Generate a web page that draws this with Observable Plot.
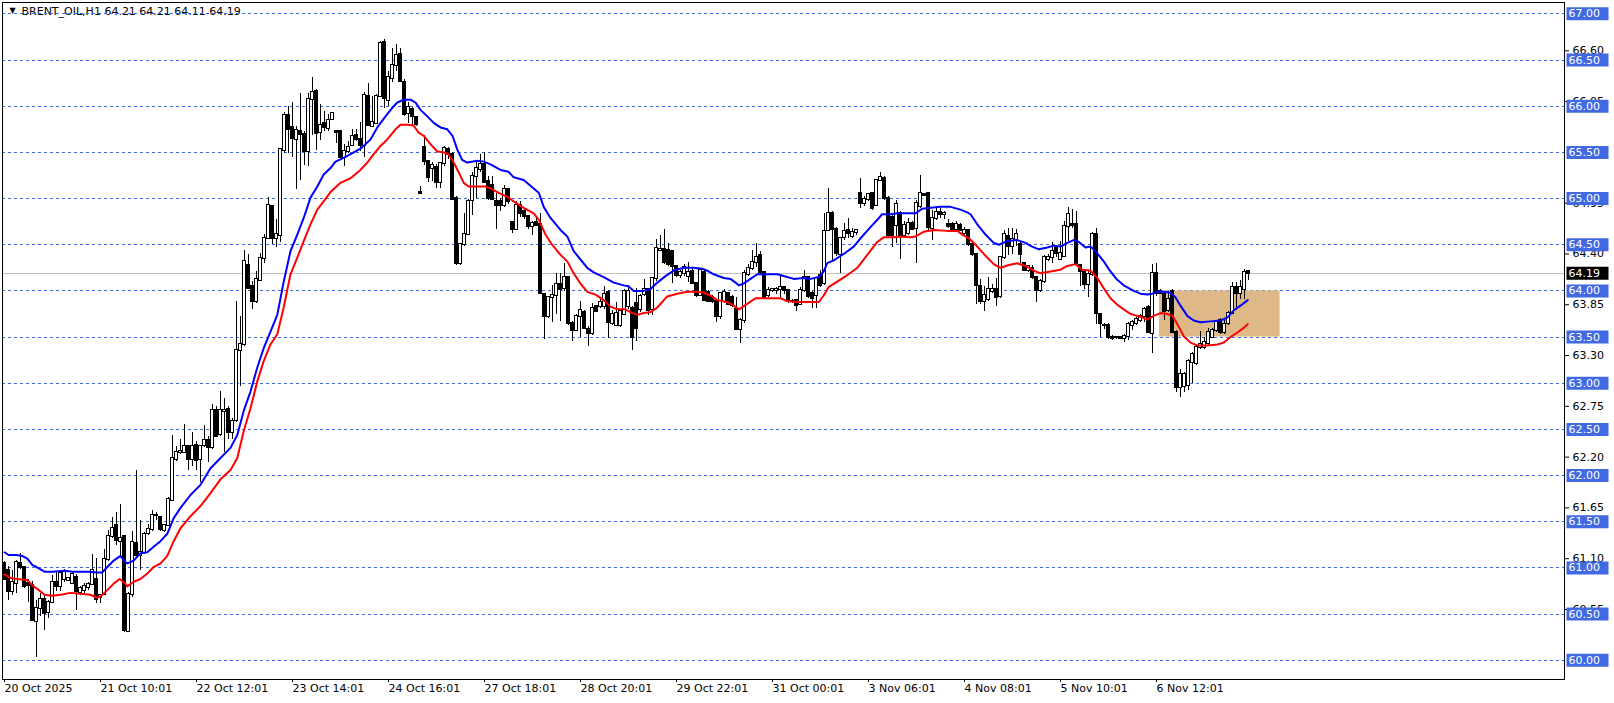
<!DOCTYPE html>
<html><head><meta charset="utf-8">
<script src="https://cdn.jsdelivr.net/npm/d3@7"></script>
<script src="https://cdn.jsdelivr.net/npm/@observablehq/plot@0.6"></script>
<style>
html,body{margin:0;padding:0;background:#fff;}
#chart{width:1614px;height:703px;overflow:hidden;}
svg{display:block}
</style></head><body><div id="chart"></div>
<script>
const symbolName = "BRENT_OIL";
const timeframe = "H1";

const open = [
61.05,60.97,60.75,60.83,61.05,61.00,60.83,60.81,60.42,60.56,
60.66,60.52,60.63,60.84,60.80,60.87,60.86,60.83,60.90,60.73,
60.76,60.79,60.82,60.88,60.68,60.71,61.09,61.34,61.46,61.29,
61.34,60.31,60.71,61.26,61.13,61.17,61.37,61.42,61.57,61.55,
61.41,61.46,61.73,62.17,62.25,62.25,62.31,62.17,62.33,62.17,
62.33,62.38,62.30,62.71,62.44,62.69,62.72,62.47,62.60,63.35,
63.42,64.27,64.05,63.89,64.11,64.35,64.57,64.91,64.57,64.60,
65.52,65.90,65.77,65.64,65.73,65.69,65.51,66.07,66.16,65.71,
65.81,65.76,65.86,65.73,65.73,65.44,65.51,65.57,65.68,65.64,
65.57,66.11,65.78,65.81,66.10,66.69,66.06,66.30,66.44,66.56,
66.26,65.92,65.96,65.88,65.07,65.55,65.40,65.33,65.34,65.17,
65.38,65.53,65.48,65.00,64.30,64.50,64.61,64.98,65.24,65.32,
65.37,65.19,65.14,64.97,64.97,64.93,65.10,64.74,64.67,64.93,
64.86,64.81,64.70,64.74,64.72,63.96,63.72,63.93,63.95,64.07,
64.03,64.15,63.65,63.57,63.72,63.77,63.58,63.54,63.83,63.83,
63.83,63.98,63.65,63.63,63.63,63.74,63.83,63.81,63.86,63.80,
63.96,64.02,63.80,64.13,64.44,64.45,64.44,64.43,64.26,64.17,
64.19,64.16,64.21,64.08,63.95,64.20,63.98,63.93,63.88,63.72,
63.88,63.97,63.93,63.80,63.58,63.68,64.18,64.24,64.31,64.38,
64.20,63.95,64.00,64.00,64.02,64.04,64.00,63.88,63.90,63.85,
64.00,64.14,63.97,63.95,64.17,64.08,64.65,64.84,64.67,64.39,
64.58,64.65,64.59,64.63,65.06,64.95,64.99,65.05,64.93,65.20,
65.22,65.00,64.80,64.71,64.84,64.60,64.62,64.73,64.68,64.91,
65.04,65.05,64.68,64.78,64.85,64.83,64.72,64.72,64.67,64.71,
64.62,64.65,64.50,64.39,64.05,63.88,63.91,63.99,64.02,63.94,
64.36,64.59,64.48,64.55,64.50,64.30,64.22,64.24,64.15,64.00,
64.10,64.34,64.36,64.46,64.34,64.37,64.70,64.72,64.72,64.27,
64.20,64.07,64.18,64.61,63.74,63.63,63.62,63.49,63.49,63.49,
63.48,63.51,63.62,63.65,63.68,63.72,63.82,63.54,64.19,63.99,
63.96,63.79,63.99,63.55,62.95,62.97,62.98,63.22,63.21,63.39,
63.39,63.43,63.50,63.57,63.68,63.55,63.65,63.76,64.04,63.97,
64.02,64.21];

const high = [
61.07,61.02,60.97,61.08,61.16,61.02,60.87,60.85,60.65,60.72,
60.70,60.65,60.92,60.96,60.96,60.98,60.90,60.95,60.93,60.80,
60.83,60.84,61.15,61.10,60.71,61.20,61.41,61.55,61.60,61.69,
61.35,60.73,61.40,62.05,61.51,61.38,61.47,61.62,61.60,61.55,
61.47,61.76,62.43,62.32,62.39,62.55,62.33,62.47,62.37,62.33,
62.54,62.42,62.77,62.75,62.91,62.84,62.75,62.62,63.88,63.72,
64.44,64.39,64.10,64.21,64.40,64.61,65.01,64.93,64.77,65.53,
65.93,66.00,66.04,65.78,66.14,65.73,66.14,66.31,66.18,66.02,
65.94,65.91,65.92,65.73,65.74,65.58,65.62,65.75,65.75,65.82,
66.15,66.25,66.11,66.13,66.70,66.72,66.38,66.63,66.67,66.62,
66.29,66.04,65.99,65.89,65.13,65.68,65.41,65.39,65.37,65.39,
65.56,65.55,65.50,65.02,64.51,64.84,64.99,65.28,65.39,65.48,
65.50,65.24,65.24,65.06,65.00,65.14,65.11,64.75,64.97,64.97,
64.88,64.81,64.75,64.80,64.84,63.97,63.94,64.06,64.19,64.19,
64.30,64.16,63.67,63.74,63.88,63.79,63.61,63.86,63.84,63.92,
64.05,64.00,63.79,63.87,63.80,64.01,64.05,63.83,64.03,63.96,
64.12,64.03,64.15,64.56,64.60,64.66,64.51,64.43,64.27,64.22,
64.29,64.31,64.24,64.08,64.24,64.22,64.00,63.95,63.89,63.98,
64.02,63.98,63.95,63.93,63.70,64.22,64.29,64.44,64.51,64.43,
64.20,64.04,64.02,64.04,64.16,64.05,64.02,63.91,63.91,64.04,
64.22,64.16,63.99,64.13,64.22,64.84,65.11,64.86,64.69,64.58,
64.73,64.78,64.68,64.67,65.22,65.02,65.06,65.07,65.20,65.28,
65.24,65.02,64.82,64.98,64.86,64.75,64.78,64.75,64.98,65.25,
65.05,65.07,64.87,64.89,64.89,64.86,64.77,64.74,64.75,64.73,
64.69,64.66,64.52,64.41,64.12,64.05,64.15,64.07,64.13,64.37,
64.65,64.68,64.68,64.66,64.52,64.31,64.27,64.28,64.16,64.12,
64.38,64.39,64.52,64.48,64.54,64.75,64.90,64.88,64.86,64.29,
64.21,64.21,64.63,64.68,63.76,63.65,63.65,63.52,63.51,63.50,
63.53,63.66,63.68,63.71,63.74,63.82,63.84,64.29,64.30,64.01,
63.98,63.99,64.01,63.57,63.15,63.12,63.26,63.33,63.40,63.56,
63.50,63.59,63.59,63.68,63.70,63.68,63.78,64.09,64.09,64.11,
64.23,64.21];

const low = [
60.86,60.65,60.70,60.72,60.98,60.78,60.63,60.43,60.03,60.47,
60.32,60.45,60.62,60.74,60.74,60.84,60.85,60.82,60.54,60.70,
60.72,60.76,60.81,60.62,60.62,60.70,61.07,61.32,61.24,61.11,
60.30,60.30,60.68,61.11,60.97,61.15,61.35,61.40,61.51,61.40,
61.38,61.45,61.72,62.15,62.23,62.24,62.06,62.10,62.06,61.93,
62.30,62.14,62.28,62.41,62.42,62.25,62.39,62.39,62.58,62.97,
63.40,64.01,63.80,63.86,64.10,64.30,64.57,64.50,64.47,64.52,
65.49,65.49,65.44,65.10,65.20,65.36,65.35,65.68,65.52,65.63,
65.73,65.73,65.84,65.60,65.42,65.35,65.49,65.57,65.62,65.51,
65.44,65.78,65.78,65.80,66.09,65.98,66.00,66.26,66.38,66.26,
65.89,65.81,65.78,65.78,65.05,65.36,65.17,65.19,65.11,65.11,
65.35,65.42,64.99,64.28,64.28,64.48,64.60,64.82,65.00,65.28,
65.17,64.98,64.99,64.67,64.86,64.90,64.94,64.62,64.66,64.79,
64.77,64.66,64.60,64.70,63.97,63.47,63.70,63.66,63.74,63.67,
63.99,63.63,63.45,63.56,63.50,63.59,63.40,63.52,63.77,63.81,
63.80,63.48,63.63,63.61,63.60,63.74,63.80,63.35,63.45,63.77,
63.94,63.73,63.73,64.10,64.43,64.29,64.26,64.08,64.15,64.13,
64.16,64.09,64.08,63.93,63.95,63.89,63.87,63.86,63.66,63.69,
63.86,63.84,63.82,63.57,63.43,63.65,64.16,64.22,64.25,64.18,
63.91,63.93,63.98,63.96,63.93,63.96,63.86,63.86,63.78,63.84,
63.98,63.92,63.81,63.81,64.04,64.06,64.64,64.33,64.37,64.19,
64.55,64.57,64.57,64.60,64.89,64.91,64.97,64.87,64.91,65.18,
64.98,64.58,64.47,64.51,64.34,64.58,64.60,64.66,64.30,64.89,
65.02,64.64,64.55,64.76,64.78,64.77,64.68,64.64,64.66,64.64,
64.59,64.48,64.37,63.85,63.85,63.78,63.89,63.97,63.83,63.92,
64.34,64.38,64.39,64.48,64.30,64.21,64.20,64.12,63.87,63.98,
64.08,64.32,64.30,64.36,64.34,64.36,64.54,64.68,64.27,64.05,
64.01,63.93,64.16,63.64,63.49,63.58,63.47,63.46,63.47,63.47,
63.44,63.46,63.57,63.63,63.66,63.66,63.55,63.32,63.94,63.96,
63.68,63.77,63.54,62.90,62.85,62.90,62.92,63.00,63.19,63.37,
63.37,63.40,63.48,63.55,63.53,63.53,63.63,63.75,63.79,63.91,
63.91,64.11];

const close = [
60.88,60.74,60.84,61.06,61.00,60.80,60.81,60.43,60.56,60.66,
60.51,60.63,60.84,60.80,60.94,60.95,60.89,60.93,60.74,60.78,
60.80,60.82,60.97,60.66,60.70,61.09,61.34,61.43,61.30,61.32,
60.32,60.71,61.28,61.13,61.17,61.36,61.42,61.57,61.57,61.42,
61.46,61.74,62.19,62.25,62.26,62.31,62.17,62.32,62.16,62.32,
62.38,62.30,62.71,62.42,62.70,62.71,62.47,62.59,63.36,63.42,
64.32,64.03,63.88,64.12,64.35,64.57,64.93,64.57,64.61,65.53,
65.90,65.75,65.65,65.74,65.69,65.51,66.07,66.15,65.70,65.79,
65.77,65.84,65.92,65.71,65.44,65.51,65.55,65.67,65.64,65.57,
66.12,65.79,65.82,66.11,66.68,66.08,66.31,66.44,66.55,66.27,
65.91,65.99,65.89,65.80,65.06,65.40,65.23,65.36,65.17,65.38,
65.54,65.48,64.99,64.30,64.50,64.61,64.97,65.24,65.33,65.37,
65.17,65.00,64.99,64.93,64.93,65.10,64.97,64.67,64.93,64.84,
64.81,64.70,64.73,64.71,63.97,63.72,63.93,63.95,64.07,64.01,
64.14,63.65,63.57,63.72,63.79,63.59,63.54,63.81,63.78,63.87,
63.96,63.66,63.74,63.76,63.78,63.99,63.99,63.50,63.59,63.94,
64.01,63.79,64.13,64.46,64.45,64.31,64.29,64.26,64.17,64.20,
64.25,64.20,64.08,63.95,64.22,63.90,63.89,63.88,63.72,63.97,
63.98,63.85,63.84,63.58,63.68,64.19,64.24,64.31,64.36,64.20,
63.93,64.00,64.01,64.02,64.04,64.00,63.88,63.89,63.84,64.00,
64.14,63.94,63.92,64.13,64.06,64.64,64.84,64.66,64.40,64.57,
64.64,64.62,64.63,64.65,64.95,64.99,65.04,64.89,65.20,65.23,
65.00,64.60,64.60,64.94,64.60,64.71,64.73,64.66,64.95,65.05,
65.03,64.69,64.78,64.85,64.83,64.84,64.70,64.65,64.72,64.65,
64.65,64.50,64.39,64.06,63.88,63.95,64.01,64.02,63.93,64.36,
64.61,64.48,64.56,64.61,64.39,64.22,64.26,64.15,64.00,64.10,
64.36,64.36,64.43,64.41,64.40,64.70,64.83,64.71,64.30,64.21,
64.07,64.18,64.61,63.75,63.65,63.63,63.49,63.48,63.49,63.48,
63.51,63.64,63.66,63.69,63.72,63.80,63.55,64.19,63.97,63.97,
63.78,63.91,63.55,62.95,63.10,63.10,63.24,63.31,63.39,63.42,
63.44,63.55,63.57,63.66,63.55,63.64,63.76,64.04,63.97,64.04,
64.20,64.19];

// Blue moving average (bar position, price)
const blueBar = [0,1,3,4.4,5.7,7,8,10,12,15,17,21,23,24.4,25.7,27.3,29,30,30.7,32.3,34,35.7,37.3,39,40.7,42.3,44,46.5,49,51.5,54,56.5,58.2,59.8,61.5,63.2,64.8,66.5,68.2,69.8,71.5,73.2,74.8,76.5,78.2,79.8,81.5,82.75,84.8,87.3,89,91.5,93.2,95.25,96.9,98.2,99.8,101.5,102.75,104,105.7,107.3,109,110.7,112,113.2,114.4,115.7,118.2,119.8,121.5,124,126,127.3,129.8,132.3,133.6,134.8,136.5,139,140.7,142.3,144,145.7,147.3,149.8,152.3,154.8,156,157.3,159.8,161.5,163.2,165.25,167.3,169.8,172.3,174.4,175.7,177.3,179.8,181.5,182.75,183.6,184.8,186.5,188.2,190.7,193.2,195.7,197.3,199.8,201.5,203.6,204.8,205.7,207.3,209.8,212.3,214,216.5,218.2,219.4,221.5,223.2,225.7,227.75,229.4,231.5,234,236.5,239,240.7,241.5,243.2,245.25,247.3,248.6,250.7,253.2,255.25,256.9,258.6,260.7,262.3,264,265.7,267.3,268.6,270.25,271.5,272.75,274.8,276.5,278.2,279.8,281.5,282.3,284,285.7,286.9,288.2,289.8,291.5,292.75,294,295.7,297.3,299,301.5,304,305.7,307.3,309,310.8];
const blueVal = [61.17,61.14,61.14,61.13,61.10,61.03,61.01,60.96,60.96,60.97,60.96,60.96,60.95,60.95,61.01,61.08,61.13,61.07,61.05,61.08,61.16,61.17,61.23,61.29,61.37,61.54,61.65,61.79,61.90,62.08,62.19,62.30,62.44,62.70,62.91,63.17,63.38,63.56,63.74,64.10,64.43,64.61,64.79,65.01,65.13,65.26,65.33,65.40,65.44,65.50,65.54,65.64,65.77,65.89,65.98,66.04,66.07,66.07,66.04,65.96,65.89,65.82,65.77,65.75,65.68,65.53,65.42,65.39,65.41,65.40,65.37,65.31,65.29,65.23,65.20,65.11,65.06,64.91,64.79,64.66,64.59,64.43,64.34,64.25,64.20,64.15,64.09,64.06,64.05,64.00,64.00,64.02,64.09,64.16,64.22,64.25,64.25,64.24,64.22,64.18,64.14,64.13,64.09,64.06,64.08,64.13,64.18,64.18,64.18,64.15,64.13,64.14,64.13,64.15,64.21,64.30,64.33,64.40,64.48,64.57,64.69,64.77,64.83,64.83,64.84,64.84,64.84,64.89,64.90,64.91,64.91,64.88,64.85,64.83,64.72,64.61,64.52,64.50,64.54,64.55,64.52,64.48,64.45,64.47,64.49,64.48,64.52,64.55,64.53,64.47,64.48,64.43,64.32,64.21,64.12,64.06,64.02,64.00,63.97,63.96,63.97,63.99,63.99,63.98,63.93,63.84,63.73,63.68,63.66,63.67,63.68,63.71,63.79,63.84,63.90];

// Red moving average (bar position, price)
const redBar = [0,1.5,3,5.7,7,8.6,10,12,14,16.5,19,21.5,23,24,25.7,27.3,28.8,30,30.7,32.3,34,35.7,37.3,39,40.7,42.3,44,46.5,49,51.5,54,56.5,58.2,59.8,61.5,63.2,64.8,66.5,68.2,69.8,71.5,73.2,74.8,76.5,78.2,79.8,81.5,84,86.5,89,90.7,92.3,94,95.7,97.75,99,100.7,102.3,103.6,104.8,106.5,108.2,109.8,111,112.3,113.6,114.8,116,118.2,120.25,121.5,124,125.7,127.3,129.8,132.3,133.6,135.25,136.9,139,140.7,142.3,144,145.7,147.75,149.8,151.5,153.2,155.25,156.9,158.2,159.8,161.5,163.2,165.7,168.2,170.7,173.2,174.8,176.5,178.2,180.7,182.3,183.6,185.7,187.75,190.7,194,195.7,198.2,201.5,203.6,204.8,206,208.2,210.7,213.2,215.7,218.2,219.8,222.3,224,226.5,227.75,229.8,232.3,235.7,238.2,239.5,241.1,243.2,245.25,247.3,249,251.1,253.2,255.25,257.3,259,261.5,264,265.7,267.75,269.4,271.5,273.2,274.8,276.5,278.2,279.8,281.5,282.3,284,285.7,287.3,289,290.7,292,293.2,294.8,296.5,298.2,300.7,303.2,304.8,306.5,308.2,309.8,310.8];
const redVal = [60.93,60.89,60.88,60.87,60.81,60.76,60.71,60.70,60.71,60.73,60.72,60.71,60.68,60.69,60.76,60.83,60.88,60.84,60.80,60.85,60.88,60.94,61.01,61.05,61.13,61.29,61.43,61.56,61.67,61.81,61.96,62.06,62.19,62.48,62.73,63.02,63.24,63.42,63.53,63.82,64.18,64.36,64.54,64.72,64.88,64.97,65.07,65.17,65.22,65.31,65.39,65.48,65.57,65.64,65.75,65.80,65.80,65.79,65.71,65.68,65.59,65.51,65.50,65.48,65.39,65.28,65.17,65.13,65.13,65.13,65.11,65.05,65.02,64.97,64.90,64.84,64.77,64.61,64.50,64.39,64.32,64.19,64.08,63.99,63.96,63.90,63.83,63.80,63.80,63.76,63.74,63.76,63.77,63.82,63.94,63.97,63.99,63.99,63.98,63.95,63.90,63.88,63.84,63.80,63.86,63.92,63.92,63.92,63.89,63.88,63.88,63.88,63.95,64.04,64.10,64.17,64.25,64.39,64.53,64.58,64.58,64.59,64.58,64.59,64.64,64.66,64.65,64.65,64.61,64.57,64.48,64.38,64.29,64.25,64.28,64.30,64.27,64.22,64.19,64.21,64.23,64.27,64.29,64.23,64.22,64.14,64.03,63.92,63.85,63.80,63.75,63.74,63.72,63.69,63.73,63.76,63.75,63.73,63.64,63.51,63.44,63.41,63.41,63.42,63.44,63.50,63.55,63.60,63.64];

const gridPrices = [60.00,60.50,61.00,61.50,62.00,62.50,63.00,63.50,64.00,64.50,65.00,65.50,66.00,66.50,67.00];
// price-scale labels that remain visible between the boxed grid labels
const scalePrices = [66.60,66.05,64.95,64.40,63.85,63.30,62.75,62.20,61.65,61.10,60.55];
const currentPrice = 64.19;
const xTickBars = [0,24,48,72,96,120,144,168,192,216,240,264,288];
const xTickLabels = ["20 Oct 2025","21 Oct 10:01","22 Oct 12:01","23 Oct 14:01","24 Oct 16:01","27 Oct 18:01","28 Oct 20:01","29 Oct 22:01","31 Oct 00:01","3 Nov 06:01","4 Nov 08:01","5 Nov 10:01","6 Nov 12:01"];
const zone = {barStart: 288.75, barEnd: 318.9, priceLow: 63.5, priceHigh: 64.0};

const bars = open.map((o, i) => ({i, open: o, high: high[i], low: low[i], close: close[i]}));
const blueLine = blueBar.map((b, k) => ({bar: b, price: blueVal[k]}));
const redLine = redBar.map((b, k) => ({bar: b, price: redVal[k]}));
const labelAt = new Map(xTickBars.map((b, k) => [b, xTickLabels[k]]));
const last = bars[bars.length - 1];
const title = `${symbolName},${timeframe} ${last.open.toFixed(2)} ${last.high.toFixed(2)} ${last.low.toFixed(2)} ${last.close.toFixed(2)}`;

const FONT = "DejaVu Sans";
const GRID = "#4169E1";
const labelBox = {draw(ctx) { ctx.moveTo(-21, -6.5); ctx.lineTo(21, -6.5); ctx.lineTo(21, 6.5); ctx.lineTo(-21, 6.5); ctx.closePath(); }};

const chart = Plot.plot({
  width: 1614,
  height: 703,
  marginLeft: 2,
  marginRight: 50,
  marginTop: 2,
  marginBottom: 24,
  style: {fontFamily: FONT, fontSize: "11px", background: "#fff", color: "black"},
  x: {type: "linear", domain: [-0.5, 390]},
  y: {type: "linear", domain: [59.792, 67.123]},
  color: {type: "identity"},
  marks: [
    Plot.text([title], {frameAnchor: "top-left", dx: 19, dy: 5, fill: "black", fontSize: 11, fontFamily: FONT}),
    Plot.text(["▼"], {frameAnchor: "top-left", dx: 7, dy: 5, fill: "black", fontSize: 8, fontFamily: FONT}),
    Plot.ruleY(gridPrices, {y: d => d, stroke: GRID, strokeDasharray: "3,3", shapeRendering: "crispEdges"}),
    Plot.rect([zone], {x1: "barStart", x2: "barEnd", y1: "priceLow", y2: "priceHigh", fill: "#DEB887"}),
    Plot.ruleY([currentPrice], {y: d => d, stroke: "#c0c0c0", shapeRendering: "crispEdges"}),
    Plot.ruleX(bars, {x: "i", y1: "low", y2: "high", stroke: "black", shapeRendering: "crispEdges"}),
    Plot.rect(bars, {x1: d => d.i - 0.375, x2: d => d.i + 0.375, y1: "open", y2: "close",
      fill: d => d.close >= d.open ? "white" : "black", stroke: "black", insetTop: -0.5, insetBottom: -0.5, shapeRendering: "crispEdges"}),
    Plot.line(redLine, {x: "bar", y: "price", stroke: "#FF0000", strokeWidth: 2}),
    Plot.line(blueLine, {x: "bar", y: "price", stroke: "#0000FF", strokeWidth: 2}),
    Plot.axisY({ticks: scalePrices, anchor: "right", tickSize: 4, tickPadding: 4, tickFormat: d => d.toFixed(2), label: null, fontSize: 11, fontFamily: FONT}),
    Plot.dot(gridPrices, {y: d => d, frameAnchor: "right", dx: 23, symbol: labelBox, fill: GRID, stroke: null}),
    Plot.text(gridPrices, {y: d => d, text: d => d.toFixed(2), frameAnchor: "right", dx: 4, textAnchor: "start", fill: "white", fontSize: 11, fontFamily: FONT}),
    Plot.dot([currentPrice], {y: d => d, frameAnchor: "right", dx: 23, symbol: labelBox, fill: "black", stroke: null}),
    Plot.text([currentPrice], {y: d => d, text: d => d.toFixed(2), frameAnchor: "right", dx: 4, textAnchor: "start", fill: "white", fontSize: 11, fontFamily: FONT}),
    Plot.axisX({ticks: xTickBars, tickFormat: d => labelAt.get(d), tickSize: 3, tickPadding: 2, textAnchor: "start", label: null, fontSize: 11, fontFamily: FONT}),
    Plot.frame({stroke: "black", shapeRendering: "crispEdges"})
  ]
});
document.getElementById("chart").append(chart);
</script>
</body></html>
